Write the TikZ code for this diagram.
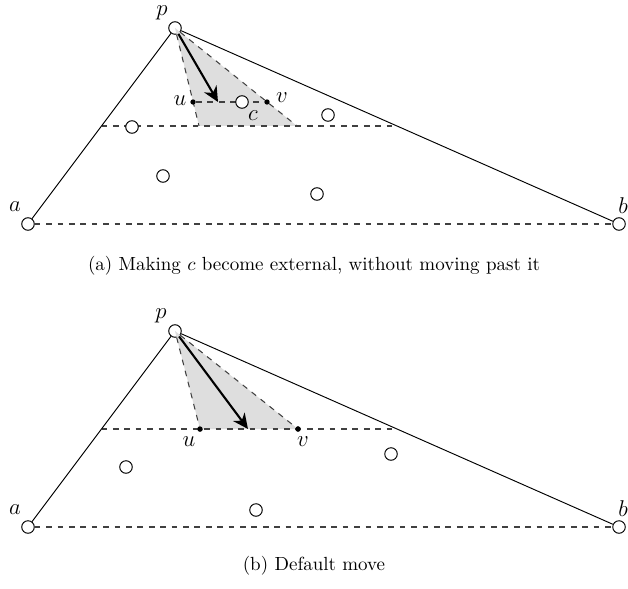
\documentclass[tikz,border=0pt]{standalone}
\usetikzlibrary{calc,arrows.meta}
\begin{document}
\begin{tikzpicture}[x=0.526pt,y=-0.526pt,
  pt/.style={circle,draw,fill=white,inner sep=0pt,minimum size=6.6pt,line width=0.5pt},
  dotp/.style={circle,fill=black,inner sep=0pt,minimum size=2.8pt},
  edgeline/.style={line width=0.5pt},
  dline/.style={dashed,line width=0.55pt,draw=black!75},
  shadereg/.style={fill=black!13},
  mvarrow/.style={line width=1.1pt,-{Stealth[length=8pt,width=7.5pt,inset=2.5pt]}},
  lbl/.style={inner sep=0pt,font=\large}]
\useasboundingbox (0,0) rectangle (628,588);
% ---------- top figure ----------
\node[pt] (p1) at (175,28) {};
\node[pt] (a1) at (28,224) {};
\node[pt] (b1) at (619,224) {};
\coordinate (l1) at ($(p1.center)!0.5!(a1.center)$);
\coordinate (r1) at ($(p1.center)!0.5!(b1.center)$);
\coordinate (s1) at (199,126);
\coordinate (t1) at (297,126);
\fill[shadereg] (p1.center) -- (s1) -- (t1) -- cycle;
\draw[dline] (p1) -- (s1);
\draw[dline] (p1) -- (t1);
\draw[dline] (l1) -- (r1);
\draw[dline] (a1) -- (b1);
\draw[edgeline] (p1) -- (a1);
\draw[edgeline] (p1) -- (b1);
\node[dotp] (u1) at (193,102) {};
\node[dotp] (v1) at (267,102) {};
\draw[dline] (u1) -- (v1);
\node[pt] (c1) at (242,102) {};
\node[pt] (q1) at (132,127) {};
\node[pt] (q2) at (328,115) {};
\node[pt] (q3) at (163,176) {};
\node[pt] (q4) at (317,194) {};
\coordinate (m1) at (218,102);
\draw[mvarrow] (p1) -- (m1);
\node[lbl] (pl1) at (162,13) {$p$};
\node[lbl] (ul1) at (180,101) {$u$};
\node[lbl] (vl1) at (282,98) {$v$};
\node[lbl] (cl1) at (253,116) {$c$};
\node[lbl] (al1) at (15,207) {$a$};
\node[lbl] (bl1) at (623,206) {$b$};
\node (cap1) at (314,266) {(a) Making $c$ become external, without moving past it};
% ---------- bottom figure ----------
\node[pt] (p2) at (175,331) {};
\node[pt] (a2) at (28,527) {};
\node[pt] (b2) at (619,527) {};
\coordinate (l2) at ($(p2.center)!0.5!(a2.center)$);
\coordinate (r2) at ($(p2.center)!0.5!(b2.center)$);
\node[dotp] (u2) at (200,429) {};
\node[dotp] (v2) at (298,429) {};
\fill[shadereg] (p2.center) -- (u2.center) -- (v2.center) -- cycle;
\draw[dline] (p2) -- (u2);
\draw[dline] (p2) -- (v2);
\draw[dline] (l2) -- (r2);
\draw[dline] (a2) -- (b2);
\draw[edgeline] (p2) -- (a2);
\draw[edgeline] (p2) -- (b2);
\node[dotp] at (u2) {};
\node[dotp] at (v2) {};
\node[pt] (w1) at (126,467) {};
\node[pt] (w2) at (391,454) {};
\node[pt] (w3) at (256,510) {};
\coordinate (m2) at (248,429);
\draw[mvarrow] (p2) -- (m2);
\node[lbl] (pl2) at (161,316) {$p$};
\node[lbl] (ul2) at (189,442) {$u$};
\node[lbl] (vl2) at (303,442) {$v$};
\node[lbl] (al2) at (15,510) {$a$};
\node[lbl] (bl2) at (623,509) {$b$};
\node (cap2) at (314,566) {(b) Default move};
\end{tikzpicture}
\end{document}
